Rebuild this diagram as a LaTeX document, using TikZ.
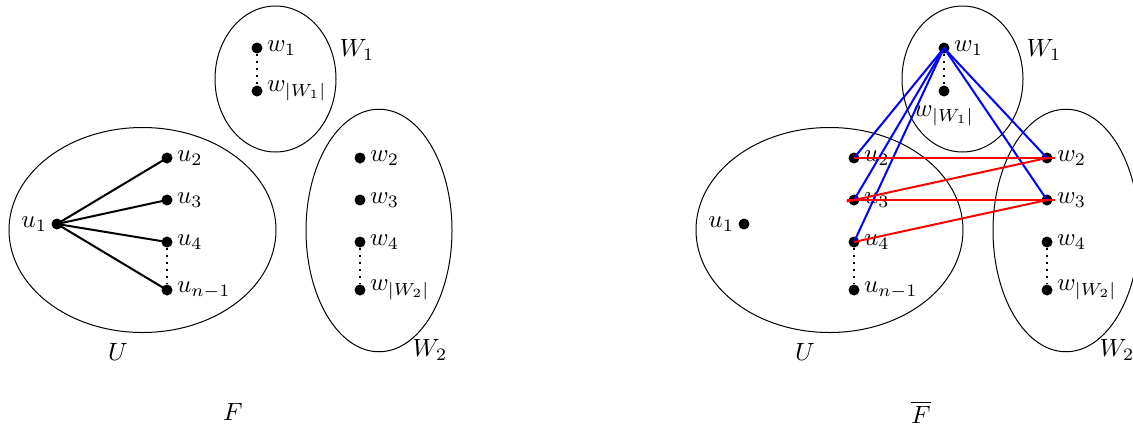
\documentclass[tikz,border=0pt]{standalone}
\usepackage{amsmath}
\usetikzlibrary{shapes.geometric}
\tikzset{
  vtx/.style={circle, fill=black, inner sep=0pt, minimum size=4.4pt},
  blob/.style={draw, ellipse, inner sep=0pt},
  gedge/.style={thick, draw=black},
  compedge/.style={thick},
  dotgap/.style={thick, dotted},
  setname/.style={inner sep=1pt},
  every label/.style={inner sep=1.4pt}
}

\begin{document}
\begin{tikzpicture}[x=0.4pt, y=-0.4pt]
  \useasboundingbox (0,0) rectangle (1133,427);

  % the graph F
  \node[blob, minimum width=106.8pt, minimum height=82pt] (U) at (142.5,230) {};
  \node[blob, minimum width=48.4pt, minimum height=58.4pt] (W1) at (275.5,79) {};
  \node[blob, minimum width=58.4pt, minimum height=97pt] (W2) at (379,230.5) {};
  \node[setname] (Ulab) at (118,352) {$U$};
  \node[setname] (W1lab) at (357,50) {$W_1$};
  \node[setname] (W2lab) at (430,350) {$W_2$};
  \node (F) at (233,412) {$F$};

  \node[vtx, label=left:$u_1$] (u1) at (57,224) {};
  \node[vtx, label=right:$u_2$] (u2) at (167,158) {};
  \node[vtx, label=right:$u_3$] (u3) at (167,200) {};
  \node[vtx, label=right:$u_4$] (u4) at (167,242) {};
  \node[vtx, label=right:$u_{n-1}$] (un) at (167,290) {};
  \node[vtx, label=right:$w_1$] (w1) at (257,48) {};
  \node[vtx, label=right:$w_{|W_1|}$] (wa) at (257,91) {};
  \node[vtx, label=right:$w_2$] (w2) at (360,158) {};
  \node[vtx, label=right:$w_3$] (w3) at (360,200) {};
  \node[vtx, label=right:$w_4$] (w4) at (360,242) {};
  \node[vtx, label=right:$w_{|W_2|}$] (wb) at (360,290) {};

  \foreach \b in {u2,u3,u4,un}
    \draw[gedge] (u1.center) -- (\b.center);
  \foreach \a/\b in {u4/un,w1/wa,w4/wb}
    \draw[dotgap] (\a) -- (\b);

  % the complement of F
  \node[blob, minimum width=106.8pt, minimum height=82pt] (bU) at (829.5,230) {};
  \node[blob, minimum width=48.4pt, minimum height=58.4pt] (bW1) at (962.5,79) {};
  \node[blob, minimum width=58.4pt, minimum height=97pt] (bW2) at (1066,230.5) {};
  \node[setname] (bUlab) at (805,352) {$U$};
  \node[setname] (bW1lab) at (1044,50) {$W_1$};
  \node[setname] (bW2lab) at (1117,350) {$W_2$};
  \node (bF) at (921,412) {$\overline{F}$};

  \node[vtx, label=left:$u_1$] (bu1) at (744,224) {};
  \node[vtx, label=right:$u_2$] (bu2) at (854,158) {};
  \node[vtx, label=right:$u_3$] (bu3) at (854,200) {};
  \node[vtx, label=right:$u_4$] (bu4) at (854,242) {};
  \node[vtx, label=right:$u_{n-1}$] (bun) at (854,290) {};
  \node[vtx, label=right:$w_1$] (bw1) at (944,48) {};
  \node[vtx, label={[label distance=2pt]below:$w_{|W_1|}$}] (bwa) at (944,91) {};
  \node[vtx, label=right:$w_2$] (bw2) at (1047,158) {};
  \node[vtx, label=right:$w_3$] (bw3) at (1047,200) {};
  \node[vtx, label=right:$w_4$] (bw4) at (1047,242) {};
  \node[vtx, label=right:$w_{|W_2|}$] (bwb) at (1047,290) {};

  \foreach \a/\b in {bu4/bun,bw1/bwa,bw4/bwb}
    \draw[dotgap] (\a) -- (\b);
  \foreach \b in {bu2,bu3,bu4,bw2,bw3}
    \draw[compedge, blue] (bw1.center) -- (\b.center);
  \draw[compedge, red, shorten >=-3pt] (bu2.center) -- (bw2.center);
  \draw[compedge, red, shorten >=-3pt] (bw2.center) -- (bu3.center);
  \draw[compedge, red, shorten <=-3pt, shorten >=-3pt] (bu3.center) -- (bw3.center);
  \draw[compedge, red] (bw3.center) -- (bu4.center);
\end{tikzpicture}
\end{document}
